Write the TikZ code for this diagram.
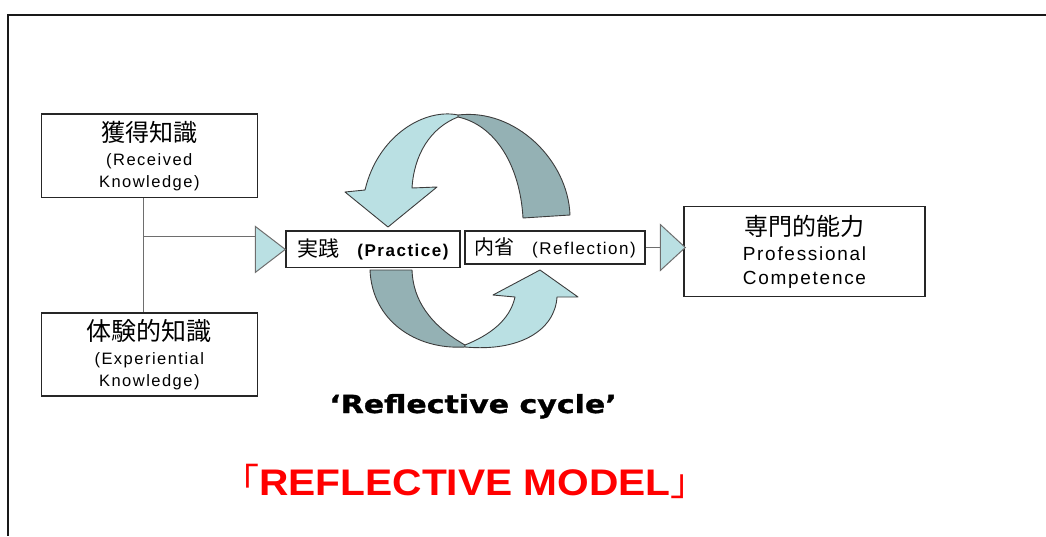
\documentclass[tikz,border=0pt]{standalone}
\usepackage{fontspec}
\setmainfont{Liberation Sans}
\newfontfamily\cjk{Noto Sans CJK JP}
\newfontfamily\bodyfont[LetterSpace=9]{Liberation Sans}
\newfontfamily\cyclefont[FakeStretch=1.2,FakeBold=1.2]{DejaVu Sans Bold}
\newfontfamily\modelfont[FakeStretch=1.1]{Liberation Sans Bold}
\usetikzlibrary{calc}
\definecolor{lightband}{RGB}{186,224,227}
\definecolor{darkband}{RGB}{148,177,180}
\definecolor{edgegray}{RGB}{60,60,60}
\definecolor{connc}{RGB}{110,110,110}
\begin{document}
\begin{tikzpicture}[x=1pt,y=-1pt,
  box/.style={draw=black!85, line width=1.4pt, fill=white, inner sep=0pt, align=center},
  conn/.style={draw=connc, line width=1.5pt},
  tri/.style={fill=lightband, draw=connc, line width=1pt, line join=miter},
  band/.style={draw=edgegray, line width=0.9pt, line join=round},
]
\useasboundingbox (0,0) rectangle (1046,536);
\draw[line width=2pt, black!90] (1046,14.8) -- (8,14.8) -- (8,536);

% top cycle arrow
\filldraw[band, fill=darkband] (458,115) .. controls (515,108) and (568,160) .. (570,215) -- (523,218) .. controls (520,165) and (495,125) .. (458,117) -- cycle;
\filldraw[band, fill=lightband] (458,115) .. controls (425,108) and (378,135) .. (365,190) -- (345,192) -- (388,227) -- (437,187) -- (412,188) .. controls (414,155) and (430,128) .. (458,117) -- cycle;
% bottom cycle arrow
\filldraw[band, fill=darkband] (370,270) .. controls (372,320) and (415,350) .. (465,347) -- (465,345) .. controls (430,325) and (413,300) .. (412,270) -- cycle;
\filldraw[band, fill=lightband] (465,347) .. controls (520,352) and (555,330) .. (557,297) -- (578,297) -- (540,270) -- (493,295) -- (515,297) .. controls (510,320) and (490,335) .. (465,345) -- cycle;

% boxes
\node[box, minimum width=216pt, minimum height=83.5pt, font=\bodyfont\fontsize{16.5}{22}\selectfont] (rk) at (149.3,155.8)
  {{\cjk\fontsize{24}{22}\selectfont 獲得知識}\\[2pt](Received\\Knowledge)};
\node[box, minimum width=216pt, minimum height=83pt, font=\bodyfont\fontsize{16.5}{22}\selectfont] (ek) at (149.3,354.5)
  {{\cjk\fontsize{25}{22}\selectfont 体験的知識}\\[2pt](Experiential\\Knowledge)};
\node[box, minimum width=174pt, minimum height=36.7pt] (pr) at (373,249.4)
  {{\cjk\fontsize{21}{20}\selectfont 実践}\hspace{18pt}{\bodyfont\bfseries\fontsize{17}{17}\selectfont (Practice)}};
\node[box, minimum width=180pt, minimum height=33pt] (rf) at (555,247.5)
  {{\cjk\fontsize{20}{20}\selectfont 内省}\hspace{18pt}{\bodyfont\fontsize{17}{17}\selectfont (Reflection)}};
\node[box, minimum width=241pt, minimum height=90pt, font=\bodyfont\fontsize{19}{23.5}\selectfont] (cp) at (804.5,251.7)
  {{\cjk\fontsize{24}{23}\selectfont 専門的能力}\\[2pt]Professional\\Competence};

% connectors and triangles
\coordinate (jn) at (143.3,236.7);
\coordinate (t1b) at ($(pr.west)+(-30,0)$);
\draw[conn] (rk.south -| jn) -- (ek.north -| jn);
\draw[conn] (jn) -- (jn -| t1b);
\filldraw[tri] (pr.west) -- ($(t1b)+(0,-23)$) -- ($(t1b)+(0,23)$) -- cycle;

\coordinate (t2tip) at ($(cp.west |- rf.east)+(2,0)$);
\coordinate (t2b) at ($(t2tip)+(-25,0)$);
\draw[conn] (rf.east) -- (rf.east -| t2b);
\filldraw[tri] (t2tip) -- ($(t2b)+(0,-23)$) -- ($(t2b)+(0,23)$) -- cycle;

% titles
\node[font=\cyclefont\fontsize{25}{25}\selectfont, anchor=base, inner sep=0pt] (cyc) at (473,413) {‘Reflective cycle’};
\node[font=\modelfont\fontsize{37}{37}\selectfont, text=red, anchor=base, inner sep=0pt] (model) at (465,495) {{\cjk 「}REFLECTIVE MODEL{\cjk 」}};
\end{tikzpicture}
\end{document}
